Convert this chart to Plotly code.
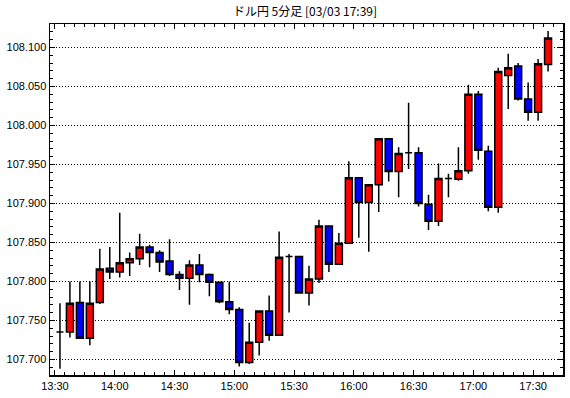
import plotly.graph_objects as go
import pandas as pd

times = ["13:30","13:35","13:40","13:45","13:50","13:55","14:00","14:05","14:10","14:15",
         "14:20","14:25","14:30","14:35","14:40","14:45","14:50","14:55","15:00","15:05",
         "15:10","15:15","15:20","15:25","15:30","15:35","15:40","15:45","15:50","15:55",
         "16:00","16:05","16:10","16:15","16:20","16:25","16:30","16:35","16:40","16:45",
         "16:50","16:55","17:00","17:05","17:10","17:15","17:20","17:25","17:30","17:35"]

open_ = [107.735,107.735,107.773,107.727,107.773,107.817,107.812,107.824,107.829,107.844,
         107.837,107.826,107.809,107.804,107.821,107.809,107.799,107.774,107.764,107.696,
         107.722,107.762,107.731,107.832,107.832,107.785,107.803,107.871,107.822,107.849,
         107.933,107.901,107.924,107.983,107.941,107.965,107.965,107.899,107.877,107.932,
         107.931,107.942,108.040,107.967,107.895,108.064,108.076,108.034,108.017,108.078]
high = [107.772,107.800,107.800,107.800,107.842,107.844,107.888,107.837,107.861,107.847,
        107.840,107.854,107.813,107.827,107.835,107.810,107.800,107.800,107.767,107.747,
        107.762,107.782,107.864,107.835,107.832,107.820,107.879,107.871,107.862,107.954,
        107.933,107.924,107.983,107.983,107.972,108.029,107.972,107.911,107.951,107.938,
        107.972,108.052,108.044,107.974,108.074,108.092,108.080,108.055,108.085,108.121]
low = [107.688,107.728,107.727,107.718,107.771,107.803,107.805,107.807,107.821,107.818,
       107.812,107.807,107.789,107.770,107.799,107.781,107.772,107.758,107.691,107.694,
       107.705,107.724,107.731,107.760,107.785,107.769,107.798,107.812,107.822,107.849,
       107.856,107.838,107.889,107.928,107.908,107.944,107.896,107.866,107.871,107.908,
       107.929,107.938,107.956,107.890,107.888,108.021,108.032,108.006,108.006,108.069]
close = [107.735,107.772,107.727,107.772,107.816,107.812,107.824,107.829,107.844,107.837,
         107.825,107.809,107.804,107.821,107.809,107.799,107.774,107.764,107.696,107.722,
         107.762,107.731,107.831,107.832,107.785,107.803,107.871,107.822,107.849,107.933,
         107.901,107.924,107.983,107.941,107.964,107.965,107.900,107.877,107.932,107.932,
         107.942,108.040,107.968,107.895,108.069,108.074,108.034,108.017,108.079,108.112]

y_ticks = [107.700,107.750,107.800,107.850,107.900,107.950,108.000,108.050,108.100]
title_text = "ドル円 5分足 [03/03 17:39]"
day = "2020-03-03"

x = pd.to_datetime([f"{day} {t}" for t in times])

fig = go.Figure(go.Candlestick(
    x=x, open=open_, high=high, low=low, close=close,
    xperiod=300000, xperiodalignment="middle",
    increasing=dict(fillcolor="#FF0000", line=dict(color="black", width=1.5)),
    decreasing=dict(fillcolor="#0000FF", line=dict(color="black", width=1.5)),
    whiskerwidth=0, showlegend=False, hoverinfo="skip",
))

tickfont = dict(family="Liberation Sans", size=11, color="black")
fig.update_layout(
    width=570, height=398,
    margin=dict(l=50, r=5, t=24, b=23),
    paper_bgcolor="white", plot_bgcolor="white",
    boxgap=0.3, boxgroupgap=0,
    title=dict(text=title_text, x=305/570, xref="container", xanchor="center",
               y=1-12/398, yref="container", yanchor="middle",
               font=dict(family="Noto Sans CJK JP", size=12, color="black")),
    xaxis=dict(
        type="date", rangeslider=dict(visible=False),
        range=[f"{day} 13:27:30", f"{day} 17:45"],
        tick0=f"{day} 13:30", dtick=1800000, tickformat="%H:%M",
        ticks="inside", ticklen=5, tickcolor="black", tickwidth=1,
        minor=dict(dtick=300000, tick0=f"{day} 13:30", ticks="inside", ticklen=3, tickcolor="black", showgrid=False),
        showline=True, linecolor="black", linewidth=1.5, mirror="allticks",
        showgrid=False, zeroline=False, tickfont=tickfont,
    ),
    yaxis=dict(
        range=[107.680, 108.130],
        tickmode="array", tickvals=y_ticks, ticktext=[f"{v:.3f}" for v in y_ticks],
        ticks="inside", ticklen=5, tickcolor="black", tickwidth=1,
        minor=dict(dtick=0.01, tick0=107.7, ticks="inside", ticklen=3, tickcolor="black", showgrid=False),
        showline=True, linecolor="black", linewidth=1.5, mirror="allticks",
        showgrid=True, gridcolor="black", gridwidth=1, griddash="1px,2px",
        zeroline=False, tickfont=tickfont,
    ),
)

fig.write_html("out.html", config={"displayModeBar": False, "staticPlot": True},
               post_script="document.body.style.margin='0px';")
